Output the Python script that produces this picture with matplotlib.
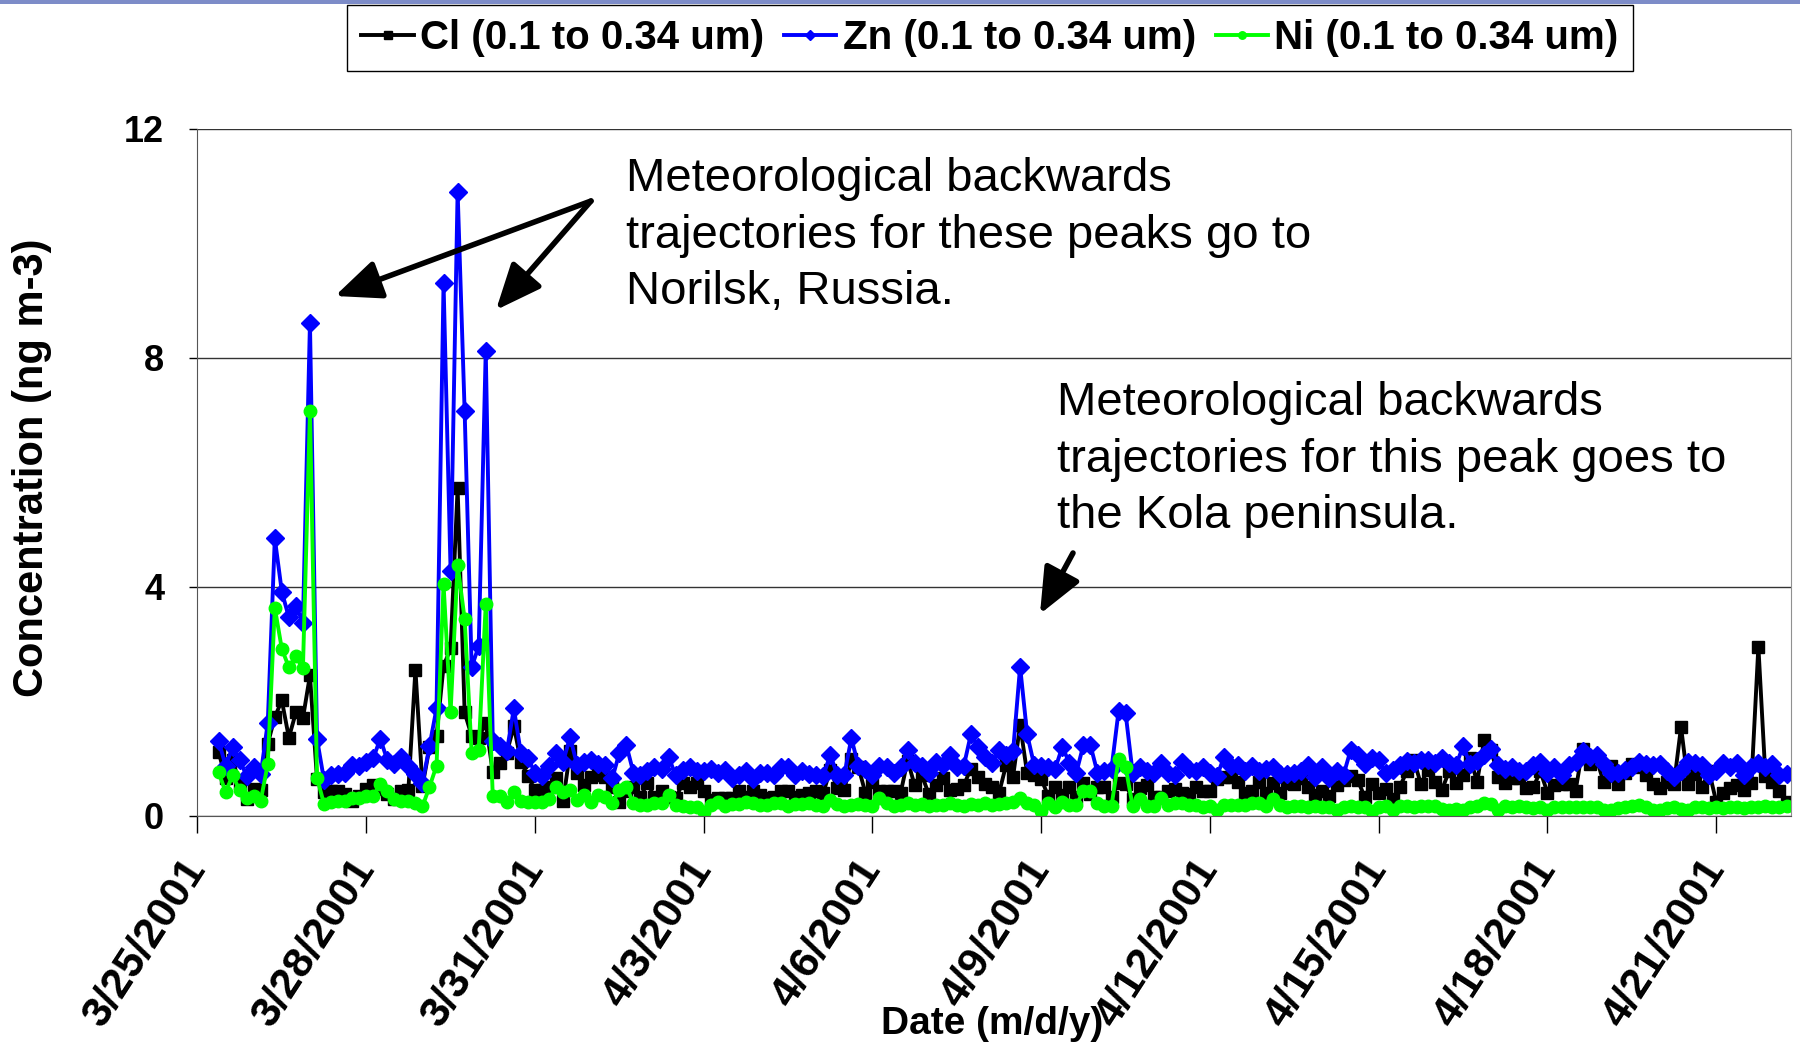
import matplotlib
matplotlib.use("Agg")
import matplotlib.pyplot as plt
from matplotlib.patches import Rectangle
import pandas as pd

plt.rcParams['font.family'] = ['Liberation Sans', 'DejaVu Sans']

# 3-hour samples starting 3/25/2001 09:00
start = '2001-03-25 09:00'

zn = [1.31, 0.87, 1.19, 0.97, 0.69, 0.84, 0.72, 1.62, 4.84, 3.91,
      3.46, 3.66, 3.37, 8.61, 1.34, 0.62, 0.70, 0.72, 0.75, 0.89,
      0.86, 0.94, 1.00, 1.34, 0.97, 0.90, 1.03, 0.87, 0.72, 0.56,
      1.22, 1.87, 9.30, 4.27, 10.9, 7.06, 2.59, 2.96, 8.12, 1.31,
      1.22, 1.12, 1.87, 1.09, 1.00, 0.75, 0.69, 0.87, 1.09, 0.94,
      1.37, 0.88, 0.94, 0.97, 0.90, 0.88, 0.65, 1.09, 1.23, 0.75,
      0.71, 0.77, 0.85, 0.82, 1.02, 0.71, 0.80, 0.85, 0.77, 0.77,
      0.81, 0.75, 0.80, 0.65, 0.71, 0.77, 0.63, 0.74, 0.75, 0.71,
      0.85, 0.85, 0.71, 0.77, 0.72, 0.71, 0.69, 1.06, 0.71, 0.71,
      1.35, 0.87, 0.82, 0.71, 0.87, 0.85, 0.74, 0.85, 1.14, 0.92,
      0.87, 0.74, 0.94, 0.88, 1.06, 0.85, 0.87, 1.42, 1.20, 1.03,
      0.91, 1.14, 1.06, 1.12, 2.60, 1.42, 0.88, 0.86, 0.85, 0.82,
      1.20, 0.92, 0.75, 1.23, 1.23, 0.75, 0.77, 0.82, 1.82, 1.79,
      0.75, 0.85, 0.77, 0.74, 0.91, 0.74, 0.71, 0.94, 0.81, 0.77,
      0.85, 0.74, 0.69, 1.02, 0.87, 0.88, 0.77, 0.87, 0.77, 0.82,
      0.85, 0.72, 0.72, 0.74, 0.77, 0.88, 0.68, 0.85, 0.65, 0.77,
      0.71, 1.14, 1.06, 0.90, 1.00, 0.97, 0.74, 0.80, 0.88, 0.96,
      0.91, 0.97, 0.97, 0.92, 1.00, 0.91, 0.88, 1.21, 0.90, 0.96,
      1.06, 1.16, 0.88, 0.82, 0.85, 0.77, 0.78, 0.88, 0.94, 0.74,
      0.85, 0.71, 0.88, 0.94, 1.12, 1.03, 1.06, 0.90, 0.74, 0.74,
      0.80, 0.85, 0.94, 0.90, 0.88, 0.90, 0.77, 0.68, 0.77, 0.94,
      0.91, 0.88, 0.71, 0.77, 0.92, 0.85, 0.91, 0.71, 0.85, 0.92,
      0.85, 0.90, 0.71, 0.73]

cl = [1.11, 0.66, 0.97, 0.56, 0.28, 0.47, 0.44, 1.25, 1.72, 2.01,
      1.36, 1.80, 1.70, 2.45, 0.64, 0.41, 0.42, 0.42, 0.37, 0.26,
      0.34, 0.47, 0.53, 0.47, 0.37, 0.28, 0.42, 0.45, 2.55, 0.51,
      1.19, 1.39, 2.61, 2.92, 5.72, 1.80, 1.39, 1.36, 1.62, 0.76,
      0.92, 1.10, 1.56, 0.94, 0.69, 0.44, 0.44, 0.50, 0.66, 0.25,
      1.12, 0.74, 0.53, 0.68, 0.71, 0.68, 0.50, 0.24, 0.42, 0.50,
      0.33, 0.56, 0.33, 0.42, 0.33, 0.30, 0.56, 0.50, 0.56, 0.42,
      0.27, 0.30, 0.30, 0.30, 0.43, 0.33, 0.43, 0.36, 0.30, 0.33,
      0.43, 0.43, 0.33, 0.35, 0.39, 0.42, 0.39, 0.80, 0.48, 0.45,
      0.98, 0.85, 0.39, 0.59, 0.42, 0.42, 0.43, 0.39, 0.96, 0.53,
      0.71, 0.38, 0.53, 0.65, 0.45, 0.46, 0.53, 0.82, 0.68, 0.55,
      0.50, 0.39, 0.88, 0.68, 1.58, 0.74, 0.71, 0.64, 0.34, 0.50,
      0.36, 0.50, 0.33, 0.56, 0.38, 0.50, 0.50, 0.33, 0.57, 0.55,
      0.28, 0.48, 0.53, 0.32, 0.32, 0.43, 0.46, 0.40, 0.38, 0.49,
      0.42, 0.42, 0.63, 0.68, 0.68, 0.59, 0.39, 0.42, 0.59, 0.39,
      0.56, 0.39, 0.56, 0.55, 0.65, 0.50, 0.36, 0.42, 0.34, 0.53,
      0.62, 0.69, 0.62, 0.33, 0.55, 0.39, 0.46, 0.28, 0.50, 0.77,
      0.97, 0.55, 0.80, 0.59, 0.45, 0.77, 0.56, 0.71, 1.00, 0.59,
      1.32, 1.14, 0.68, 0.56, 0.65, 0.65, 0.48, 0.50, 0.77, 0.40,
      0.53, 0.55, 0.55, 0.43, 1.17, 0.90, 0.98, 0.58, 0.87, 0.55,
      0.74, 0.90, 0.85, 0.71, 0.55, 0.48, 0.59, 0.55, 1.55, 0.55,
      0.73, 0.50, 0.77, 0.24, 0.39, 0.48, 0.53, 0.45, 0.56, 2.95,
      0.69, 0.59, 0.42, 0.24]

ni = [0.76, 0.41, 0.70, 0.44, 0.31, 0.34, 0.26, 0.90, 3.63, 2.91,
      2.59, 2.78, 2.57, 7.06, 0.66, 0.20, 0.24, 0.25, 0.26, 0.31,
      0.31, 0.34, 0.34, 0.55, 0.42, 0.28, 0.26, 0.26, 0.22, 0.16,
      0.50, 0.87, 4.04, 1.80, 4.38, 3.43, 1.09, 1.15, 3.69, 0.34,
      0.34, 0.24, 0.41, 0.25, 0.24, 0.24, 0.24, 0.28, 0.50, 0.41,
      0.45, 0.27, 0.36, 0.24, 0.36, 0.33, 0.21, 0.45, 0.50, 0.22,
      0.18, 0.18, 0.21, 0.21, 0.36, 0.18, 0.17, 0.15, 0.15, 0.07,
      0.18, 0.24, 0.17, 0.20, 0.20, 0.24, 0.21, 0.18, 0.18, 0.21,
      0.21, 0.17, 0.20, 0.20, 0.21, 0.18, 0.16, 0.27, 0.20, 0.17,
      0.18, 0.20, 0.19, 0.16, 0.30, 0.22, 0.17, 0.19, 0.21, 0.18,
      0.20, 0.17, 0.19, 0.18, 0.22, 0.19, 0.17, 0.20, 0.19, 0.21,
      0.18, 0.20, 0.22, 0.24, 0.30, 0.21, 0.18, 0.08, 0.21, 0.15,
      0.24, 0.18, 0.18, 0.43, 0.43, 0.21, 0.17, 0.17, 0.98, 0.85,
      0.17, 0.28, 0.17, 0.17, 0.30, 0.18, 0.21, 0.21, 0.18, 0.18,
      0.15, 0.17, 0.10, 0.18, 0.18, 0.18, 0.18, 0.21, 0.21, 0.17,
      0.28, 0.18, 0.15, 0.16, 0.17, 0.15, 0.16, 0.15, 0.14, 0.09,
      0.15, 0.16, 0.15, 0.14, 0.08, 0.15, 0.16, 0.10, 0.16, 0.17,
      0.15, 0.16, 0.17, 0.16, 0.11, 0.10, 0.12, 0.10, 0.15, 0.17,
      0.21, 0.20, 0.10, 0.16, 0.15, 0.16, 0.14, 0.13, 0.15, 0.09,
      0.15, 0.14, 0.15, 0.14, 0.15, 0.15, 0.14, 0.10, 0.09, 0.13,
      0.14, 0.16, 0.18, 0.15, 0.10, 0.09, 0.13, 0.15, 0.12, 0.09,
      0.14, 0.15, 0.13, 0.14, 0.13, 0.14, 0.15, 0.13, 0.15, 0.15,
      0.16, 0.15, 0.15, 0.16]

labels = ['Cl (0.1 to 0.34 um)', 'Zn (0.1 to 0.34 um)', 'Ni (0.1 to 0.34 um)']

tick_dates = pd.date_range('2001-03-25', '2001-04-21', freq='3D')


def times(vals):
    return pd.date_range(start, periods=len(vals), freq='3h')


fig = plt.figure(figsize=(18, 10.47), dpi=100)
ax = fig.add_axes([0.1097, 0.2211, 0.8853, 0.6561])

ax.plot(times(cl), cl, color='black', lw=2.8, marker='s', ms=9, label=labels[0])
ax.plot(times(zn), zn, color='#0000ff', lw=2.8, marker='D', ms=9, label=labels[1])
ax.plot(times(ni), ni, color='#00ff00', lw=2.8, marker='o', ms=9, label=labels[2])

ax.set_ylim(0, 12)
ax.set_yticks([0, 4, 8, 12])
ax.set_xlim(pd.Timestamp('2001-03-25'), pd.Timestamp('2001-03-25') + pd.Timedelta(days=28.33))
ax.set_xticks(tick_dates)
ax.set_xticklabels([f'{d.month}/{d.day}/{d.year}' for d in tick_dates],
                   rotation=57, ha='right', va='center', rotation_mode='anchor',
                   fontsize=31, fontweight='bold')
ax.tick_params(axis='x', length=12, width=1, pad=22)
ax.tick_params(axis='y', length=6, width=1, pad=18, labelsize=26)
for t in ax.get_yticklabels():
    t.set_fontweight('bold')

ax.grid(axis='y', color='#333333', lw=1)
ax.spines['top'].set_visible(False)
ax.spines['right'].set_color('#909090')
ax.spines['left'].set_color('#555555')
ax.spines['bottom'].set_color('#555555')

fig.text(0.018, 0.553, 'Concentration (ng m-3)', rotation=90, ha='center', va='center',
         fontsize=30, fontweight='bold')
fig.text(0.551, 0.022, 'Date (m/d/y)', ha='center', va='center',
         fontsize=28, fontweight='bold')

ax.legend(loc='center', bbox_to_anchor=(0.55, 0.964), bbox_transform=fig.transFigure,
          ncol=3, frameon=True, fancybox=False, edgecolor='black', framealpha=1,
          prop={'size': 29, 'weight': 'bold'}, handlelength=1.3, handletextpad=0.15,
          columnspacing=0.5, borderpad=0.35, markerscale=0.6)

# annotation texts and arrows
fig.text(0.348, 0.775, 'Meteorological backwards\ntrajectories for these peaks go to\nNorilsk, Russia.',
         ha='left', va='center', fontsize=34, linespacing=1.36)
fig.text(0.587, 0.561, 'Meteorological backwards\ntrajectories for this peak goes to\nthe Kola peninsula.',
         ha='left', va='center', fontsize=34, linespacing=1.36)

arrow = dict(arrowstyle='-|>,head_length=1.4,head_width=0.6', color='black', lw=4,
             shrinkA=0, shrinkB=0, mutation_scale=20)
ax.annotate('', xy=(335 / 1800, 1 - 296 / 1047), xytext=(591 / 1800, 1 - 201 / 1047),
            xycoords='figure fraction', textcoords='figure fraction', arrowprops=arrow)
ax.annotate('', xy=(496 / 1800, 1 - 310 / 1047), xytext=(591 / 1800, 1 - 201 / 1047),
            xycoords='figure fraction', textcoords='figure fraction', arrowprops=arrow)
ax.annotate('', xy=(1040 / 1800, 1 - 614 / 1047), xytext=(1073 / 1800, 1 - 553 / 1047),
            xycoords='figure fraction', textcoords='figure fraction', arrowprops=arrow)

# thin header strip from the slide
fig.patches.append(Rectangle((0, 1 - 4 / 1047), 1, 4 / 1047, transform=fig.transFigure,
                             facecolor='#7d8cc8', edgecolor='none'))

fig.savefig('out.png', dpi=100)
